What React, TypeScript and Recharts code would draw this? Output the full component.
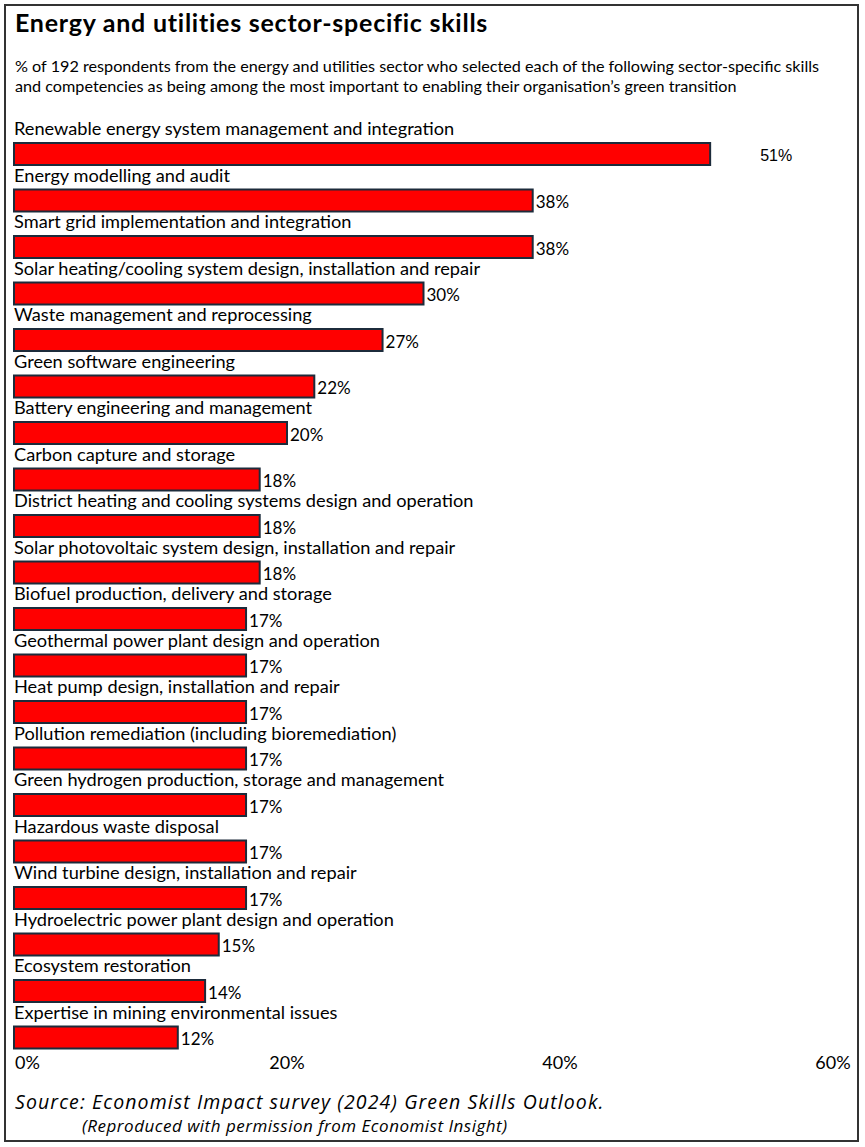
import { BarChart, Bar, XAxis, YAxis, LabelList } from 'recharts';

const SKILLS = [
  'Renewable energy system management and integration',
  'Energy modelling and audit',
  'Smart grid implementation and integration',
  'Solar heating/cooling system design, installation and repair',
  'Waste management and reprocessing',
  'Green software engineering',
  'Battery engineering and management',
  'Carbon capture and storage',
  'District heating and cooling systems design and operation',
  'Solar photovoltaic system design, installation and repair',
  'Biofuel production, delivery and storage',
  'Geothermal power plant design and operation',
  'Heat pump design, installation and repair',
  'Pollution remediation (including bioremediation)',
  'Green hydrogen production, storage and management',
  'Hazardous waste disposal',
  'Wind turbine design, installation and repair',
  'Hydroelectric power plant design and operation',
  'Ecosystem restoration',
  'Expertise in mining environmental issues',
];

const SHARE = [51, 38, 38, 30, 27, 22, 20, 18, 18, 18, 17, 17, 17, 17, 17, 17, 17, 15, 14, 12];

const X_TICKS = [0, 20, 40, 60];

const data = SKILLS.map((name, i) => ({ name, value: SHARE[i] }));

const FONT = 'Lato, "Open Sans", sans-serif';
const ITALIC_FONT = '"Open Sans", Lato, sans-serif';

const CategoryLabel = (props: any) => {
  const { x, y, value } = props;
  return (
    <text x={x} y={y - 8} fontSize={18.2} fontFamily={FONT} fill="#000">
      {value}
    </text>
  );
};

const ValueLabel = (props: any) => {
  const { x, y, width, height, value, index } = props;
  // the top bar's label sits well clear of the bar, in a different face
  const first = index === 0;
  return (
    <text
      x={x + width + (first ? 50 : 3)}
      y={y + height / 2 + 1}
      dominantBaseline="central"
      fontSize={first ? 16 : 17}
      fontFamily={first ? 'Arial, "Liberation Sans", sans-serif' : FONT}
      fill="#000"
    >
      {value}%
    </text>
  );
};

const AxisTick = (props: any) => {
  const { x, y, payload, index } = props;
  return (
    <text
      x={x + (index === 0 ? 1 : 0)}
      y={y}
      dy={0}
      textAnchor={index === 0 ? 'start' : 'middle'}
      fontSize={18}
      fontFamily={FONT}
      fill="#000"
    >
      {payload.value}%
    </text>
  );
};

export default function App() {
  return (
    <div style={{ position: 'absolute', left: 0, top: 0, width: 865, height: 1147, background: '#fff' }}>
      <div
        style={{
          position: 'absolute',
          left: 4,
          top: 4,
          width: 851,
          height: 1134,
          border: '2px solid #333',
        }}
      />
      <BarChart
        width={865}
        height={1147}
        data={data}
        layout="vertical"
        margin={{ top: 131, right: 32, bottom: 56, left: 14 }}
      >
        <XAxis
          type="number"
          domain={[0, 60]}
          ticks={X_TICKS}
          axisLine={false}
          tickLine={false}
          tick={<AxisTick />}
          height={30}
        />
        <YAxis type="category" dataKey="name" hide />
        <Bar
          dataKey="value"
          fill="#FF0000"
          stroke="#1C2B3B"
          strokeWidth={2}
          barSize={22}
          isAnimationActive={false}
        >
          <LabelList dataKey="name" content={<CategoryLabel />} />
          <LabelList dataKey="value" content={<ValueLabel />} />
        </Bar>
      </BarChart>
      <svg
        width={865}
        height={1147}
        style={{ position: 'absolute', left: 0, top: 0, pointerEvents: 'none' }}
      >
        <text x={15} y={32} fontSize={25} letterSpacing={0.75} fontWeight="bold" fontFamily={FONT} fill="#000">
          Energy and utilities sector-specific skills
        </text>
        <text x={15} y={72} fontSize={16.2} fontFamily={FONT} fill="#000">
          % of 192 respondents from the energy and utilities sector who selected each of the following sector-specific skills
        </text>
        <text x={15} y={92} fontSize={16.2} fontFamily={FONT} fill="#000">
          and competencies as being among the most important to enabling their organisation’s green transition
        </text>
        <text x={15} y={1109} fontSize={19.5} letterSpacing={1.1} fontStyle="italic" fontFamily={ITALIC_FONT} fill="#000">
          Source: Economist Impact survey (2024) Green Skills Outlook.
        </text>
        <text x={82} y={1132} fontSize={17} letterSpacing={0.5} fontStyle="italic" fontFamily={ITALIC_FONT} fill="#000">
          (Reproduced with permission from Economist Insight)
        </text>
      </svg>
    </div>
  );
}
